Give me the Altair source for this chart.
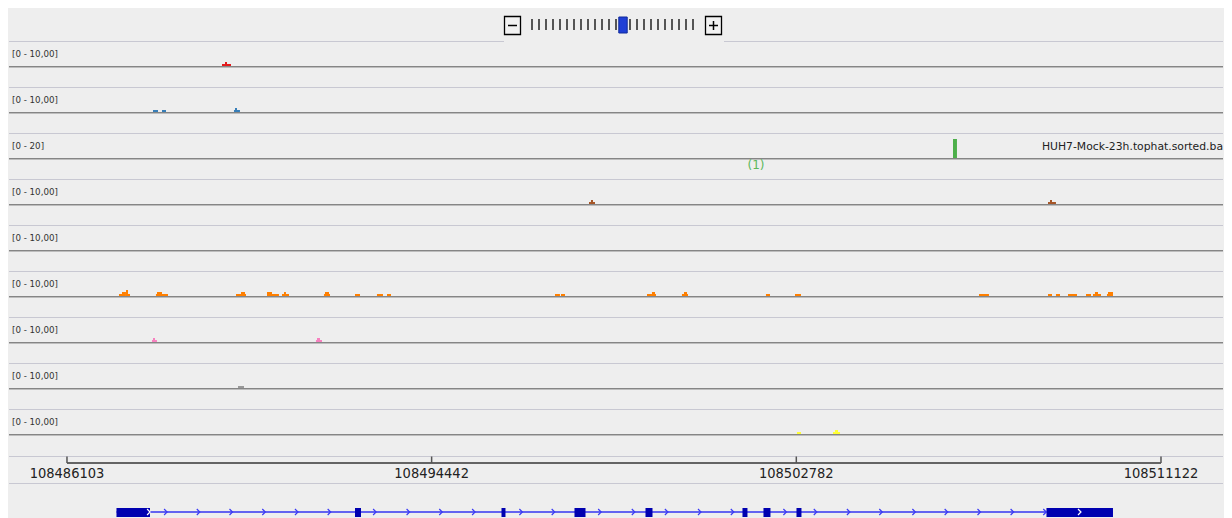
import altair as alt
import pandas as pd

# ---------------- data ----------------
VIEW_START = 108484777
VIEW_END = 108512540

ruler_ticks = [108486103, 108494442, 108502782, 108511122]

track_labels = ["[0 - 10,00]", "[0 - 10,00]", "[0 - 20]", "[0 - 10,00]", "[0 - 10,00]",
                "[0 - 10,00]", "[0 - 10,00]", "[0 - 10,00]", "[0 - 10,00]"]
track_max = [10, 10, 20, 10, 10, 10, 10, 10, 10]
track_colors = ["#E41A1C", "#377EB8", "#4DAF4A", "#A65628", "#984EA3",
                "#FF7F00", "#F781BF", "#999999", "#FFFF33"]

t1_start = [108489648, 108489716, 108489762]
t1_end = [108489716, 108489762, 108489854]
t1_val = [1, 2, 1]

t2_start = [108488070, 108488276, 108489922, 108489945, 108489991]
t2_end = [108488184, 108488367, 108489945, 108489991, 108490059]
t2_val = [1, 1, 1, 2, 1]

t3_start = [108506365]
t3_end = [108506456]
t3_val = [19]

t4_start = [108498041, 108498086, 108498132, 108508538, 108508583, 108508629]
t4_end = [108498086, 108498132, 108498178, 108508583, 108508629, 108508720]
t4_val = [1, 2, 1, 1, 2, 1]

t5_start = []
t5_end = []
t5_val = []

t6_start = [108487292, 108487361, 108487452, 108487498, 108488138, 108488161, 108488276,
            108489968, 108490082, 108490174, 108490677, 108490791, 108491020, 108491066,
            108491111, 108491980, 108492003, 108492095, 108492689, 108493192, 108493421,
            108497263, 108497400, 108499367, 108499481, 108499550, 108500167, 108500213,
            108500282, 108502088, 108502752, 108506960, 108508538, 108508720, 108508995,
            108509407, 108509567, 108509612, 108509681, 108509887, 108509910]
t6_end = [108487361, 108487452, 108487498, 108487544, 108488161, 108488276, 108488413,
          108490082, 108490174, 108490197, 108490791, 108490951, 108491066, 108491111,
          108491180, 108492003, 108492095, 108492118, 108492804, 108493330, 108493513,
          108497377, 108497492, 108499481, 108499550, 108499573, 108500213, 108500282,
          108500305, 108502180, 108502889, 108507188, 108508629, 108508812, 108509201,
          108509521, 108509612, 108509681, 108509750, 108509910, 108510024]
t6_val = [1, 2, 3, 1, 1, 2, 1,
          1, 2, 1, 2, 1, 1, 2,
          1, 1, 2, 1, 1, 1, 1,
          1, 1, 1, 2, 1, 1, 2,
          1, 1, 1, 1, 1, 1, 1,
          1, 1, 2, 1, 1, 2]

t7_start = [108488047, 108488070, 108488116, 108491797, 108491820, 108491889]
t7_end = [108488070, 108488116, 108488161, 108491820, 108491889, 108491935]
t7_val = [1, 2, 1, 1, 2, 1]

t8_start = [108490014]
t8_end = [108490151]
t8_val = [1]

t9_start = [108502797, 108503621, 108503666, 108503735]
t9_end = [108502889, 108503666, 108503735, 108503781]
t9_val = [1, 1, 2, 1]

sample_name = "HUH7-Mock-23h.tophat.sorted.ba"
junction_pos = [108501860]
junction_label = ["(1)"]

exon_start = [108487235, 108492689, 108496040, 108497709, 108499333,
              108501551, 108502031, 108502786, 108508503]
exon_end = [108488001, 108492827, 108496131, 108497961, 108499493,
            108501665, 108502191, 108502900, 108510024]
intron_arrows = [108488358, 108489106, 108489854, 108490604, 108491351, 108492099,
                 108493138, 108493904, 108494651, 108495402, 108496483, 108497222,
                 108498285, 108499054, 108499811, 108500568, 108501318, 108502521,
                 108503216, 108503973, 108504714, 108505471, 108506209, 108506960,
                 108507717, 108508464]
exon_arrows = [108487969, 108509258]

zoom_levels = list(range(24))
current_zoom = 13

coverage = [
    (t1_start, t1_end, t1_val), (t2_start, t2_end, t2_val), (t3_start, t3_end, t3_val),
    (t4_start, t4_end, t4_val), (t5_start, t5_end, t5_val), (t6_start, t6_end, t6_val),
    (t7_start, t7_end, t7_val), (t8_start, t8_end, t8_val), (t9_start, t9_end, t9_val),
]

# ---------------- layout / style ----------------
W = 1214
BG = "#EEEEEE"
SEP = "#C8C8D2"
FONT = "DejaVu Sans"
xscale = alt.Scale(domain=[VIEW_START, VIEW_END], nice=False, zero=False)
one = pd.DataFrame({"k": [0]})


def hrule(x1, x2, y, color=SEP, w=1.0):
    return alt.Chart(one).mark_rule(color=color, strokeWidth=w).encode(
        x=alt.value(x1), x2=alt.value(x2), y=alt.value(y))


def vrule(x, y1, y2, color="black", w=1.0):
    return alt.Chart(one).mark_rule(color=color, strokeWidth=w).encode(
        x=alt.value(x), y=alt.value(y1), y2=alt.value(y2))


# ---- top bar with zoom widget ----
zl_scale = alt.Scale(domain=[-523 / 7, (W - 523) / 7], nice=False, zero=False)
zdf = pd.DataFrame({"level": zoom_levels})
zoom_ticks = alt.Chart(zdf).transform_filter(
    alt.datum.level != current_zoom
).mark_rule(color="#555555", strokeWidth=2).encode(
    x=alt.X("level:Q", scale=zl_scale, axis=None),
    y=alt.value(11), y2=alt.value(22))
zoom_cur = alt.Chart(zdf).transform_filter(
    alt.datum.level == current_zoom
).transform_calculate(
    lo="datum.level - 0.6", hi="datum.level + 0.6"
).mark_rect(color="#1F3FD6", stroke="#102A9A", strokeWidth=1).encode(
    x=alt.X("lo:Q", scale=zl_scale, axis=None), x2="hi:Q",
    y=alt.value(9), y2=alt.value(25))
minus_box = alt.Chart(one).mark_rect(fill="#F2F2F2", stroke="black", strokeWidth=1.3).encode(
    x=alt.value(495.5), x2=alt.value(511.5), y=alt.value(8.5), y2=alt.value(26.5))
plus_box = alt.Chart(one).mark_rect(fill="#F2F2F2", stroke="black", strokeWidth=1.3).encode(
    x=alt.value(696.5), x2=alt.value(712.5), y=alt.value(8.5), y2=alt.value(26.5))
top = alt.layer(
    zoom_ticks, zoom_cur, minus_box, plus_box,
    hrule(499, 508, 17.5, "black", 1.5),
    hrule(700, 709, 17.5, "black", 1.5),
    vrule(704.5, 13, 22, "black", 1.5),
).properties(width=W, height=33)


# ---- coverage tracks ----
def coverage_panel(i):
    vmax = track_max[i]
    yscale = alt.Scale(domain=[-1.05 * vmax, 1.25 * vmax], nice=False, zero=False)
    layers = []
    if i == 0:
        layers += [hrule(0, 495, 0.5), hrule(715, W, 0.5)]
    else:
        layers.append(hrule(0, W, 0.5))
    s, e, v = coverage[i]
    if len(s):
        df = pd.DataFrame({"start": s, "end": e, "value": v})
        layers.append(alt.Chart(df).mark_rect(color=track_colors[i]).encode(
            x=alt.X("start:Q", scale=xscale, axis=None),
            x2="end:Q",
            y=alt.Y("value:Q", scale=yscale, axis=None),
            y2=alt.datum(0)))
    layers.append(alt.Chart(one).mark_rule(color="#858585", strokeWidth=1, yOffset=0.5).encode(
        x=alt.value(0), x2=alt.value(W), y=alt.YDatum(0, scale=yscale, axis=None)))
    layers.append(alt.Chart(one).mark_rule(color="#BDBDBD", strokeWidth=1, yOffset=1.5).encode(
        x=alt.value(0), x2=alt.value(W), y=alt.YDatum(0, scale=yscale, axis=None)))
    layers.append(alt.Chart(one).mark_text(
        align="left", baseline="alphabetic", fontSize=8.7, font=FONT, color="#333333").encode(
        x=alt.value(3), y=alt.value(16.3), text=alt.value(track_labels[i])))
    if i == 2:
        layers.append(alt.Chart(one).mark_text(
            align="right", baseline="alphabetic", fontSize=10.8, font=FONT,
            color="#222222").encode(
            x=alt.value(W), y=alt.value(17), text=alt.value(sample_name)))
        jdf = pd.DataFrame({"pos": junction_pos, "label": junction_label})
        layers.append(alt.Chart(jdf).mark_text(
            baseline="middle", fontSize=12, font=FONT, color="#5CB85A").encode(
            x=alt.X("pos:Q", scale=xscale, axis=None), y=alt.value(31.5), text="label:N"))
    return alt.layer(*layers).properties(width=W, height=46)


tracks = [coverage_panel(i) for i in range(9)]

# ---- ruler ----
rdf = pd.DataFrame({"pos": ruler_ticks, "label": [str(t) for t in ruler_ticks]})
ruler_line = alt.Chart(rdf).transform_aggregate(
    lo="min(pos)", hi="max(pos)"
).mark_rule(color="#646464", strokeWidth=2).encode(
    x=alt.X("lo:Q", scale=xscale, axis=None), x2="hi:Q", y=alt.value(7))
ruler_tick = alt.Chart(rdf).mark_rule(color="#555555", strokeWidth=1.5).encode(
    x=alt.X("pos:Q", scale=xscale, axis=None), y=alt.value(0.5), y2=alt.value(7))
ruler_text = alt.Chart(rdf).mark_text(
    baseline="alphabetic", fontSize=14.5, font="DejaVu Sans Condensed, DejaVu Sans",
    color="#222222").encode(
    x=alt.X("pos:Q", scale=xscale, axis=None), y=alt.value(22.3), text="label:N")
ruler = alt.layer(hrule(0, W, 0.5), ruler_line, ruler_tick, ruler_text).properties(width=W, height=27)

# ---- gene ----
edf = pd.DataFrame({"start": exon_start, "end": exon_end})
gene_line = alt.Chart(edf).transform_aggregate(
    lo="min(start)", hi="max(end)"
).mark_rule(color="#3434F0", strokeWidth=1.3).encode(
    x=alt.X("lo:Q", scale=xscale, axis=None), x2="hi:Q", y=alt.value(29))
exons = alt.Chart(edf).mark_rect(color="#0000B0").encode(
    x=alt.X("start:Q", scale=xscale, axis=None), x2="end:Q",
    y=alt.value(25), y2=alt.value(34))
CHEV = "M-0.5,-1L0.5,0L-0.5,1"
arrows = alt.Chart(pd.DataFrame({"pos": intron_arrows})).mark_point(
    shape=CHEV, filled=False, size=36, strokeWidth=1.2, color="#3A3AF5", opacity=1).encode(
    x=alt.X("pos:Q", scale=xscale, axis=None), y=alt.value(29))
arrows_w = alt.Chart(pd.DataFrame({"pos": exon_arrows})).mark_point(
    shape=CHEV, filled=False, size=36, strokeWidth=1.2, color="white", opacity=1).encode(
    x=alt.X("pos:Q", scale=xscale, axis=None), y=alt.value(29))
gene = alt.layer(hrule(0, W, 0.5), gene_line, exons, arrows, arrows_w).properties(width=W, height=36)

chart = alt.vconcat(top, *tracks, ruler, gene, spacing=0).configure(
    background=BG, padding=0, font=FONT
).configure_view(stroke=None)

chart.save("out.html", embed_options={"renderer": "svg", "actions": False})
